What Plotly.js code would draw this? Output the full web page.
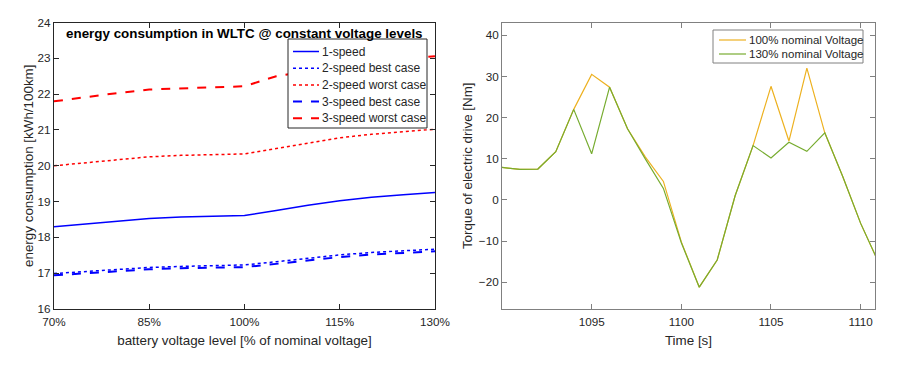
<!DOCTYPE html>
<html>
<head>
<meta charset="utf-8">
<script src="https://cdn.plot.ly/plotly-3.0.1.min.js"></script>
<style>
  html, body { margin: 0; padding: 0; background: #fff; }
  #chart { width: 898px; height: 369px; }
</style>
</head>
<body>
<div id="chart"></div>
<script>
// left panel: energy consumption vs. battery voltage level
var voltage = [70, 75, 80, 85, 90, 95, 100, 105, 110, 115, 120, 125, 130];
var oneSpeed      = [18.30, 18.38, 18.46, 18.53, 18.57, 18.59, 18.61, 18.75, 18.90, 19.02, 19.12, 19.19, 19.25];
var twoBest       = [16.99, 17.05, 17.11, 17.16, 17.19, 17.21, 17.23, 17.32, 17.42, 17.51, 17.58, 17.63, 17.67];
var twoWorst      = [20.00, 20.09, 20.17, 20.25, 20.29, 20.31, 20.33, 20.48, 20.64, 20.78, 20.88, 20.96, 21.02];
var threeBest     = [16.94, 17.00, 17.06, 17.11, 17.14, 17.16, 17.17, 17.26, 17.36, 17.45, 17.52, 17.57, 17.61];
var threeWorst    = [21.80, 21.92, 22.03, 22.13, 22.17, 22.19, 22.22, 22.50, 22.65, 22.79, 22.90, 22.98, 23.06];
var voltTicks = [70, 85, 100, 115, 130];
var voltLabels = ['70%', '85%', '100%', '115%', '130%'];

// right panel: torque of electric drive over time
var time = [1090, 1091, 1092, 1093, 1094, 1095, 1096, 1097, 1098, 1099, 1100, 1101, 1102, 1103, 1104, 1105, 1106, 1107, 1108, 1109, 1110, 1111];
var torque100 = [7.9, 7.4, 7.5, 11.7, 22.0, 30.5, 27.4, 17.3, 10.4, 4.5, -10.2, -21.2, -14.6, 1.0, 13.2, 27.6, 14.3, 32.0, 16.3, 5.7, -5.7, -15.2];
var torque130 = [7.9, 7.4, 7.5, 11.7, 22.0, 11.2, 27.4, 17.3, 9.9, 2.8, -10.4, -21.2, -14.6, 1.0, 13.2, 10.2, 14.0, 11.8, 16.3, 5.7, -5.7, -15.2];
var timeTicks = [1095, 1100, 1105, 1110];

var W = 898, H = 369;
var textCol = '#262626';

var data = [
  { x: voltage, y: oneSpeed, name: '1-speed', type: 'scatter', mode: 'lines',
    line: { color: '#0000ff', width: 1.5 } },
  { x: voltage, y: twoBest, name: '2-speed best case', type: 'scatter', mode: 'lines',
    line: { color: '#0000ff', width: 1.5, dash: 'dot' } },
  { x: voltage, y: twoWorst, name: '2-speed worst case', type: 'scatter', mode: 'lines',
    line: { color: '#ff0000', width: 1.5, dash: 'dot' } },
  { x: voltage, y: threeBest, name: '3-speed best case', type: 'scatter', mode: 'lines',
    line: { color: '#0000ff', width: 2, dash: 'dash' } },
  { x: voltage, y: threeWorst, name: '3-speed worst case', type: 'scatter', mode: 'lines',
    line: { color: '#ff0000', width: 2, dash: 'dash' } },
  { x: time, y: torque100, name: '100% nominal Voltage', type: 'scatter', mode: 'lines',
    xaxis: 'x2', yaxis: 'y2',
    line: { color: '#EDB120', width: 1.2 } },
  { x: time, y: torque130, name: '130% nominal Voltage', type: 'scatter', mode: 'lines',
    xaxis: 'x2', yaxis: 'y2',
    line: { color: '#77AC30', width: 1.2 } }
];

// MATLAB-style compact legends, built from the traces (box in pixels)
var shapes = [];
var annotations = [];
function px(x) { return x / W; }
function py(y) { return 1 - y / H; }

function addLegend(traces, box, firstRow, rowGap, lineX0, lineX1, fontSize, border) {
  shapes.push({
    type: 'rect', xref: 'paper', yref: 'paper', layer: 'above',
    x0: px(box[0]), x1: px(box[1]), y0: py(box[2]), y1: py(box[3]),
    fillcolor: '#fff', line: { color: border, width: 1 }
  });
  traces.forEach(function (t, i) {
    var yy = firstRow + i * rowGap;
    shapes.push({
      type: 'line', xref: 'paper', yref: 'paper', layer: 'above',
      x0: px(lineX0), x1: px(lineX1), y0: py(yy), y1: py(yy),
      line: { color: t.line.color, width: t.line.width, dash: t.line.dash || 'solid' }
    });
    annotations.push({
      text: t.name, xref: 'paper', yref: 'paper',
      x: px(lineX1 + 1), y: py(yy), xanchor: 'left', yanchor: 'middle',
      showarrow: false, font: { size: fontSize, color: textCol }
    });
  });
}

data.forEach(function (t) { t.showlegend = false; });
addLegend(data.slice(0, 5), [288, 427, 39, 128], 51.5, 16.7, 293, 319, 12, textCol);
addLegend(data.slice(5), [713, 863, 30, 63], 40, 14, 719, 746, 11.5, '#808080');

annotations.push({
  text: '<b>energy consumption in WLTC @ constant voltage levels</b>',
  xref: 'x domain', yref: 'paper', x: 0.5, y: py(33),
  xanchor: 'center', yanchor: 'middle', showarrow: false,
  font: { size: 13.4, color: '#000' }
});

var layout = {
  width: W,
  height: H,
  margin: { l: 0, r: 0, t: 0, b: 0 },
  paper_bgcolor: '#fff',
  plot_bgcolor: '#fff',
  showlegend: false,
  font: { family: 'Liberation Sans, Arial, sans-serif', color: textCol, size: 12 },
  xaxis: {
    domain: [0.0601, 0.4844], range: [70, 130], anchor: 'y',
    tickvals: voltTicks, ticktext: voltLabels,
    ticks: 'inside', ticklen: 5, tickcolor: textCol,
    showline: true, linecolor: textCol, linewidth: 1, mirror: 'ticks',
    showgrid: false, zeroline: false, ticklabelstandoff: 2,
    tickfont: { size: 11.7 },
    title: { text: 'battery voltage level [% of nominal voltage]', font: { size: 13.4 }, standoff: 8 }
  },
  yaxis: {
    domain: [0.1626, 0.939], range: [16, 24], anchor: 'x', dtick: 1,
    ticks: 'inside', ticklen: 5, tickcolor: textCol,
    showline: true, linecolor: textCol, linewidth: 1, mirror: 'ticks',
    showgrid: false, zeroline: false,
    tickfont: { size: 11.7 },
    title: { text: 'energy consumption [kWh/100km]', font: { size: 13.4 }, standoff: 0 }
  },
  xaxis2: {
    domain: [0.559, 0.9744], range: [1090, 1110.8], anchor: 'y2',
    tickvals: timeTicks,
    ticks: 'inside', ticklen: 5, tickcolor: '#808080',
    showline: true, linecolor: '#808080', linewidth: 1, mirror: 'ticks',
    showgrid: false, zeroline: false, ticklabelstandoff: 2,
    tickfont: { size: 11.7 },
    title: { text: 'Time [s]', font: { size: 13.4 }, standoff: 8 }
  },
  yaxis2: {
    domain: [0.1626, 0.939], range: [-26.5, 43.1], anchor: 'x2', dtick: 10,
    ticks: 'inside', ticklen: 5, tickcolor: '#808080',
    showline: true, linecolor: '#808080', linewidth: 1, mirror: 'ticks',
    showgrid: false, zeroline: false,
    tickfont: { size: 11.7 },
    title: { text: 'Torque of electric drive [Nm]', font: { size: 13.4 }, standoff: 3 }
  },
  shapes: shapes,
  annotations: annotations
};

Plotly.newPlot('chart', data, layout, { displayModeBar: false, staticPlot: true });
</script>
</body>
</html>
